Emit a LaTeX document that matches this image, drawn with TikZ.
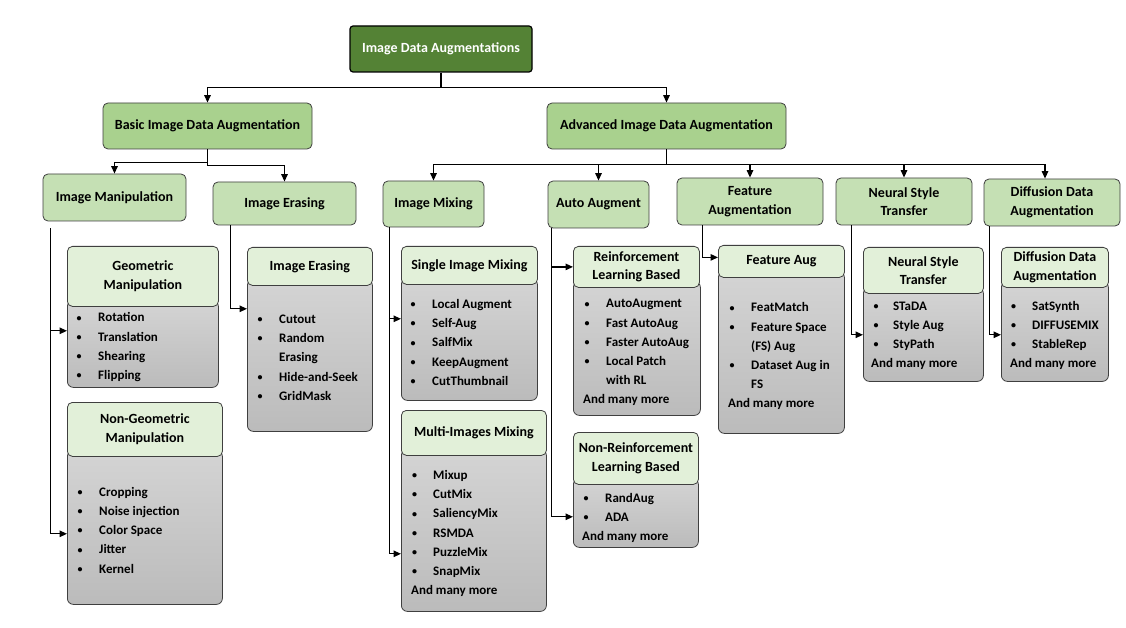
\documentclass[tikz,border=0pt]{standalone}
\usepackage{fontspec}
\setmainfont{Carlito}
\usetikzlibrary{arrows.meta}
\definecolor{rootc}{HTML}{548235}
\definecolor{lvone}{HTML}{A9D18E}
\definecolor{lvtwo}{HTML}{C5E0B4}
\definecolor{hdrc}{HTML}{E2F0D9}
\definecolor{bord}{HTML}{3F3F3F}
\definecolor{gtop}{HTML}{D4D4D4}
\definecolor{gbot}{HTML}{BBBBBB}
\newcommand\hdfont{\fontsize{14}{18.5}\selectfont\bfseries}
\newlength\bgap
\newcommand\bu{\llap{\makebox[0pt][c]{\raisebox{0.8pt}{\fontsize{10}{10}\selectfont •}}\hspace{\bgap}}}
\newcommand\blist[5]{\setlength\bgap{#4}\foreach \t [count=\i from 0] in {#5} {\node[item] (#1-\i) at (#2, #3+\i*19.2) {\t};}}
\begin{document}
\begin{tikzpicture}[x=1pt,y=-1pt,
  rootbox/.style={draw=black, fill=rootc, text=white, line width=1.2pt, rounded corners=3pt, inner sep=0, font=\hdfont},
  lvonebox/.style={draw=bord, fill=lvone, rounded corners=5pt, line width=0.8pt, inner sep=0, align=center, font=\hdfont},
  lvtwobox/.style={draw=bord, fill=lvtwo, rounded corners=5pt, line width=0.8pt, inner sep=0, align=center, font=\hdfont},
  hdr/.style={draw=bord, fill=hdrc, rounded corners=5pt, line width=0.8pt, anchor=north west, inner sep=0, align=center, font=\hdfont},
  bodyb/.style={draw=bord, top color=gtop, bottom color=gbot, rounded corners=6pt, line width=0.8pt, anchor=north west, inner sep=0},
  item/.style={anchor=base west, inner sep=0, font=\fontsize{13}{15}\selectfont\bfseries},
  conn/.style={line width=1.3pt, -{Triangle[length=7.5pt,width=6.5pt]}}]
\useasboundingbox (0,0) rectangle (1126,628);
\fill[white] (0,0) rectangle (1126,628);

% bodies
\node[bodyb, minimum width=151pt, minimum height=87pt] (geoB) at (67,300) {};
\node[bodyb, minimum width=155pt, minimum height=154pt] (ngB) at (67,450) {};
\node[bodyb, minimum width=125pt, minimum height=152pt] (erB) at (247,279) {};
\node[bodyb, minimum width=136pt, minimum height=122pt] (sB) at (401,278) {};
\node[bodyb, minimum width=145pt, minimum height=162pt] (mB) at (401,449) {};
\node[bodyb, minimum width=127pt, minimum height=134pt] (rlB) at (573,281) {};
\node[bodyb, minimum width=125pt, minimum height=69pt] (nrB) at (573,478) {};
\node[bodyb, minimum width=126pt, minimum height=162pt] (faB) at (718,271) {};
\node[bodyb, minimum width=120pt, minimum height=94pt] (nsB) at (863,287) {};
\node[bodyb, minimum width=107pt, minimum height=100pt] (dfB) at (1001,281) {};

% headers
\node[hdr, minimum width=151pt, minimum height=60pt] (geoH) at (67,246) {Geometric\\Manipulation};
\node[hdr, minimum width=155pt, minimum height=54pt] (ngH) at (67,402) {Non-Geometric\\Manipulation};
\node[hdr, minimum width=125pt, minimum height=38pt] (erH) at (247,247) {Image Erasing};
\node[hdr, minimum width=136pt, minimum height=38pt] (sH) at (401,246) {Single Image Mixing};
\node[hdr, minimum width=145pt, minimum height=45pt] (mH) at (401,410) {Multi-Images Mixing};
\node[hdr, minimum width=126pt, minimum height=41pt] (rlH) at (573,246) {Reinforcement\\Learning Based};
\node[hdr, minimum width=125pt, minimum height=52pt] (nrH) at (573,432) {Non-Reinforcement\\Learning Based};
\node[hdr, minimum width=126pt, minimum height=32pt] (faH) at (718,245) {Feature Aug};
\node[hdr, minimum width=120pt, minimum height=46pt] (nsH) at (863,247) {Neural Style\\Transfer};
\node[hdr, minimum width=107pt, minimum height=40pt] (dfH) at (1001,247) {Diffusion Data\\Augmentation};

% lists
\blist{geoL}{98}{321.8}{19pt}{\bu Rotation, \bu Translation, \bu Shearing, \bu Flipping}
\blist{ngL}{99}{496.2}{19pt}{\bu Cropping, \bu Noise injection, \bu Color Space, \bu Jitter, \bu Kernel}
\blist{erL}{279}{323.5}{19pt}{\bu Cutout, \bu Random, Erasing, \bu Hide-and-Seek, \bu GridMask}
\blist{sL}{432}{308.5}{19pt}{\bu Local Augment, \bu Self-Aug, \bu SalfMix, \bu KeepAugment, \bu CutThumbnail}
\blist{mL}{433}{479.5}{18.5pt}{\bu Mixup, \bu CutMix, \bu SaliencyMix, \bu RSMDA, \bu PuzzleMix, \bu SnapMix}
\node[item] (mAnd) at (411,594.7) {And many more};
\blist{rlL}{606}{307.8}{19pt}{\bu AutoAugment, \bu Fast AutoAug, \bu Faster AutoAug, \bu Local Patch, with RL}
\node[item] (rlAnd) at (583,403.8) {And many more};
\blist{nrL}{605}{502.2}{19pt}{\bu RandAug, \bu ADA}
\node[item] (nrAnd) at (582,540.6) {And many more};
\blist{faL}{751}{311.8}{19pt}{\bu FeatMatch, \bu Feature Space, {(FS) Aug}, \bu Dataset Aug in, FS}
\node[item] (faAnd) at (728,407.8) {And many more};
\blist{nsL}{893}{310.2}{17pt}{\bu STaDA, \bu Style Aug, \bu StyPath}
\node[item] (nsAnd) at (871,367.8) {And many more};
\blist{dfL}{1032}{310.2}{18.5pt}{\bu SatSynth, \bu DIFFUSEMIX, \bu StableRep}
\node[item] (dfAnd) at (1010,367.8) {And many more};

% top levels
\node[rootbox, minimum width=182pt, minimum height=46pt] (root) at (441,49) {Image Data Augmentations};
\node[lvonebox, minimum width=209pt, minimum height=46pt] (basic) at (207.5,126) {Basic Image Data Augmentation};
\node[lvonebox, minimum width=239pt, minimum height=46pt] (adv) at (666.5,126) {Advanced Image Data Augmentation};
\node[lvtwobox, minimum width=143pt, minimum height=47pt] (im) at (114.5,197.5) {Image Manipulation};
\node[lvtwobox, minimum width=143pt, minimum height=43pt] (ie) at (284.5,203.5) {Image Erasing};
\node[lvtwobox, minimum width=101pt, minimum height=46pt] (mix) at (433.5,204) {Image Mixing};
\node[lvtwobox, minimum width=101pt, minimum height=47pt] (auto) at (598.5,204.5) {Auto Augment};
\node[lvtwobox, minimum width=146pt, minimum height=47pt] (feat) at (750,201.5) {Feature\\Augmentation};
\node[lvtwobox, minimum width=136pt, minimum height=47pt] (nst) at (904,201.5) {Neural Style\\Transfer};
\node[lvtwobox, minimum width=136pt, minimum height=47pt] (diff) at (1052,202.5) {Diffusion Data\\Augmentation};

% connectors
\draw[conn] (root.south) -- ++(0,15) -| (basic.north);
\draw[conn] (root.south) -- ++(0,15) -| (adv.north);
\draw[conn] (basic.south) -- ++(0,13) -| (im.north);
\draw[conn] (basic.south) -- ++(0,16) -| (ie.north);
\draw[conn] (adv.south) -- ++(0,15) -| (mix.north);
\draw[conn] (adv.south) -- ++(0,15) -| (auto.north);
\draw[conn] (adv.south) -- ++(0,15) -| (feat.north);
\draw[conn] (adv.south) -- ++(0,15) -| (nst.north);
\draw[conn] (adv.south) -- ++(0,15) -| ([xshift=-7pt]diff.north);

\draw[conn] ([xshift=8pt,yshift=-7pt]im.south west) |- ([yshift=-24pt]geoH.south west);
\draw[conn] ([xshift=8pt,yshift=-7pt]im.south west) |- ([yshift=-77pt]ngH.south west);
\draw[conn] ([xshift=18pt]ie.south west) |- ([yshift=-23pt]erH.south west);
\draw[conn] ([xshift=7pt]mix.south west) |- ([yshift=-34pt]sH.south west);
\draw[conn] ([xshift=7pt]mix.south west) |- ([yshift=-98pt]mH.south west);
\draw[conn] ([xshift=4pt]auto.south west) |- (rlH.west);
\draw[conn] ([xshift=4pt]auto.south west) |- ([yshift=-32pt]nrH.south west);
\draw[conn] ([xshift=26pt]feat.south west) |- ([yshift=4pt]faH.west);
\draw[conn] ([xshift=16pt]nst.south west) |- ([yshift=-41pt]nsH.south west);
\draw[conn] ([xshift=6pt]diff.south west) |- ([yshift=-47pt]dfH.south west);
\end{tikzpicture}
\end{document}
